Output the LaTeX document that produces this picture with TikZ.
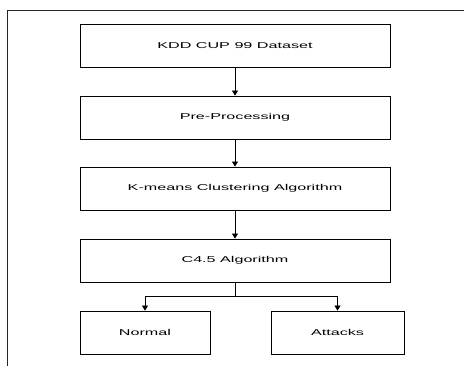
\documentclass[tikz,border=0pt]{standalone}
\usepackage{fontspec}
\setmainfont{Liberation Sans}[FakeStretch=1.9]
\usetikzlibrary{arrows.meta}

\begin{document}
\begin{tikzpicture}[x={(1pt,0pt)},y={(0pt,-1pt)},
        box/.style={draw,line width=0.8pt,minimum height=43pt,inner sep=0pt,font=\fontsize{8.5}{10}\selectfont},
        arr/.style={line width=0.8pt,-{Triangle[width=6pt,length=5pt]}}]
            \useasboundingbox (0,0) rectangle (464,366);
            \draw[line width=0.8pt,black!85] (464,10)--(7,10)--(7,366);
            \node[box,minimum width=310pt] (kdd) at (235,45.5) {KDD CUP 99 Dataset};
            \node[box,minimum width=310pt] (pre) at (235,117.5) {Pre-Processing};
            \node[box,minimum width=310pt] (kmeans) at (235,188.5) {K-means Clustering Algorithm};
            \node[box,minimum width=310pt] (c45) at (235,260.5) {C4.5 Algorithm};
            \node[box,minimum width=130pt] (normal) at (145,332.5) {Normal};
            \node[box,minimum width=133pt] (attacks) at (337.5,332.5) {Attacks};
            \coordinate (split) at (235,296);
            \draw[arr] (kdd)--(pre);
            \draw[arr] (pre)--(kmeans);
            \draw[arr] (kmeans)--(c45);
            \draw[line width=0.8pt] (c45)--(split);
            \draw[arr] (split)-|(normal);
            \draw[arr] (split)-|(attacks);
        \end{tikzpicture}
\end{document}
